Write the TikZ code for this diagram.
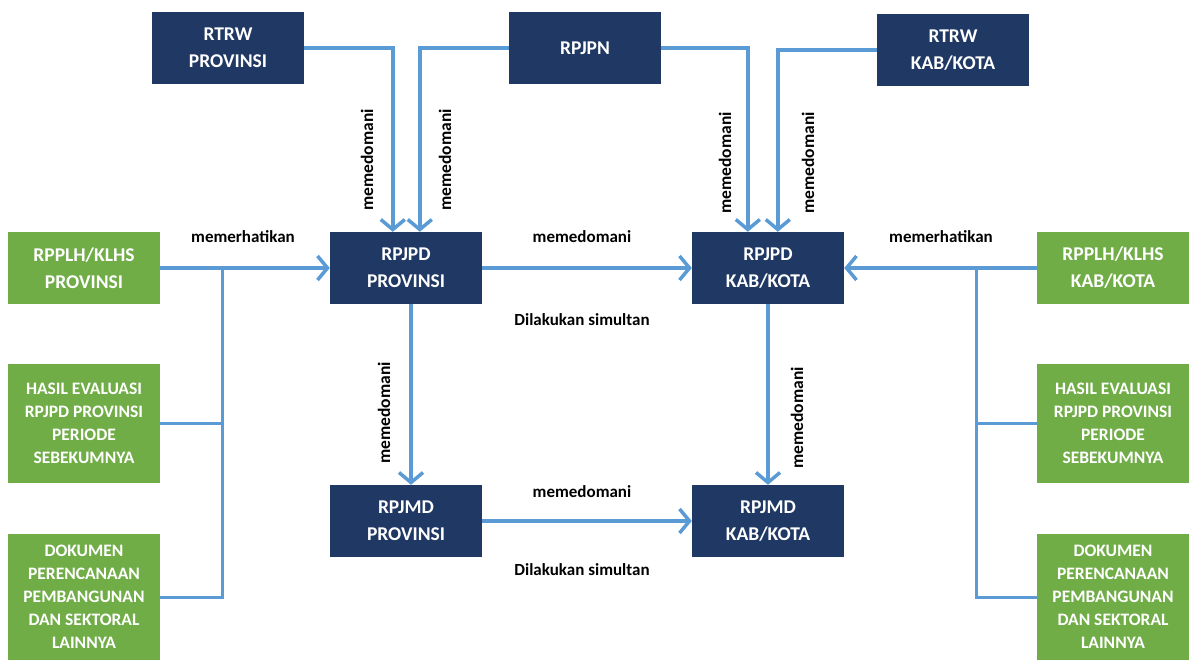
\documentclass[tikz,border=0pt]{standalone}
\usepackage{fontspec}
\setmainfont{Carlito}
\usetikzlibrary{arrows.meta}
\definecolor{navy}{HTML}{203864}
\definecolor{leaf}{HTML}{70AD47}
\definecolor{wire}{HTML}{5B9BD5}
\tikzset{
  x=1pt, y=-1pt,
  darkbox/.style={fill=navy, text=white, font=\bfseries\fontsize{19.5}{27}\selectfont, align=center, minimum width=152pt, minimum height=72pt, inner sep=0pt},
  greenbox/.style={fill=leaf, text=white, font=\bfseries\fontsize{19.5}{27}\selectfont, align=center, minimum width=152pt, inner sep=0pt},
  smallgreen/.style={greenbox, font=\bfseries\fontsize{17.5}{23}\selectfont},
  wireline/.style={draw=wire, line width=3.5pt},
  arr/.style={wireline, -{Straight Barb[length=10pt,width=24pt]}},
  lbl/.style={font=\bfseries\fontsize{17}{18}\selectfont, text=black, inner sep=0pt},
  vlbl/.style={lbl, rotate=90, font=\bfseries\fontsize{17.5}{18}\selectfont}
}
\begin{document}
\begin{tikzpicture}
\useasboundingbox (0,0) rectangle (1190,660);
% dark boxes
\node[darkbox] (rtrwp) at (228,48) {RTRW\\PROVINSI};
\node[darkbox] (rpjpn) at (585,48) {RPJPN};
\node[darkbox] (rtrwk) at (953,50) {RTRW\\KAB/KOTA};
\node[darkbox] (rpjpdp) at (406,268) {RPJPD\\PROVINSI};
\node[darkbox] (rpjpdk) at (768,268) {RPJPD\\KAB/KOTA};
\node[darkbox] (rpjmdp) at (406,521) {RPJMD\\PROVINSI};
\node[darkbox] (rpjmdk) at (768,521) {RPJMD\\KAB/KOTA};
% green boxes left
\node[greenbox, minimum height=72pt] (gl1) at (84,268) {RPPLH/KLHS\\PROVINSI};
\node[smallgreen, minimum height=119pt] (gl2) at (84,423) {HASIL EVALUASI\\RPJPD PROVINSI\\PERIODE\\SEBEKUMNYA};
\node[smallgreen, minimum height=126pt] (gl3) at (84,597) {DOKUMEN\\PERENCANAAN\\PEMBANGUNAN\\DAN SEKTORAL\\LAINNYA};
% green boxes right
\node[greenbox, minimum height=72pt] (gr1) at (1113,268) {RPPLH/KLHS\\KAB/KOTA};
\node[smallgreen, minimum height=119pt] (gr2) at (1113,423) {HASIL EVALUASI\\RPJPD PROVINSI\\PERIODE\\SEBEKUMNYA};
\node[smallgreen, minimum height=126pt] (gr3) at (1113,597) {DOKUMEN\\PERENCANAAN\\PEMBANGUNAN\\DAN SEKTORAL\\LAINNYA};
% bus coordinates
\coordinate (busL) at (222,268);
\coordinate (busR) at (976,268);
% top connectors
\draw[arr] (rtrwp.east) -| ([xshift=63pt]rpjpdp.north west);
\draw[arr] (rpjpn.west) -| ([xshift=90pt]rpjpdp.north west);
\draw[arr] (rpjpn.east) -| ([xshift=56pt]rpjpdk.north west);
\draw[arr] (rtrwk.west) -| ([xshift=86pt]rpjpdk.north west);
% left inputs
\draw[arr] (gl1.east) -- (rpjpdp.west);
\draw[wireline, line width=3pt] (gl2.east) -- (gl2.east -| busL);
\draw[wireline, line width=3pt] (gl3.east) -| (busL);
% right inputs
\draw[arr] (gr1.west) -- (rpjpdk.east);
\draw[wireline, line width=3pt] (gr2.west) -- (gr2.west -| busR);
\draw[wireline, line width=3pt] (gr3.west) -| (busR);
% middle connectors
\draw[arr] (rpjpdp.east) -- (rpjpdk.west);
\draw[arr] (rpjmdp.east) -- (rpjmdk.west);
\draw[arr] ([xshift=5pt]rpjpdp.south) -- ([xshift=5pt]rpjmdp.north);
\draw[arr] (rpjpdk.south) -- (rpjmdk.north);
% labels
\node[lbl] (l1) at (243,237) {memerhatikan};
\node[lbl] (l2) at (941,237) {memerhatikan};
\node[lbl] (l3) at (582,237) {memedomani};
\node[lbl] (l4) at (582,320) {Dilakukan simultan};
\node[lbl] (l5) at (582,492) {memedomani};
\node[lbl] (l6) at (582,570) {Dilakukan simultan};
\node[vlbl] (v1) at (367,160) {memedomani};
\node[vlbl] (v2) at (445,160) {memedomani};
\node[vlbl] (v3) at (725,163) {memedomani};
\node[vlbl] (v4) at (808,163) {memedomani};
\node[vlbl] (v5) at (384,413) {memedomani};
\node[vlbl] (v6) at (797,418) {memedomani};
\end{tikzpicture}
\end{document}
